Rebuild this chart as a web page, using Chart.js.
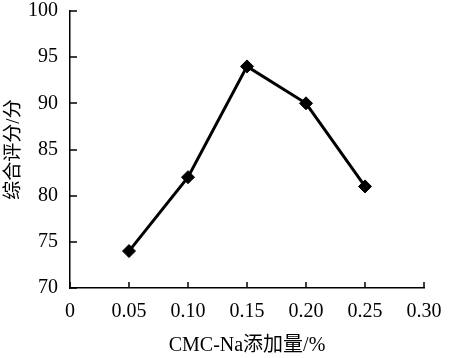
<!DOCTYPE html>
<html><head><meta charset="utf-8">
<script src="https://cdn.jsdelivr.net/npm/chart.js@4/dist/chart.umd.min.js"></script>
<style>html,body{margin:0;padding:0;background:#fff;}#wrap{width:452px;height:358px;}</style>
</head><body><div id="wrap"><canvas id="c" width="452" height="358"></canvas></div>
<script>
const xValues = [0.05, 0.10, 0.15, 0.20, 0.25];
const scores = [74, 82, 94, 90, 81];
const xTicks = [0, 0.05, 0.10, 0.15, 0.20, 0.25, 0.30];
const yTicks = [70, 75, 80, 85, 90, 95, 100];
const xTitle = 'CMC-Na添加量/%';
const yTitle = '综合评分/分';

const serif = '"Liberation Serif", "Times New Roman", serif';
const mixed = '"Liberation Serif", "Noto Sans CJK SC", serif';

const innerTicks = {
  id: 'innerTicks',
  afterDraw(chart) {
    const ctx = chart.ctx, xs = chart.scales.x, ys = chart.scales.y;
    const a = chart.chartArea;
    ctx.save();
    ctx.strokeStyle = '#000';
    ctx.lineWidth = 1.5;
    ctx.beginPath();
    xTicks.forEach(v => { const p = Math.round(xs.getPixelForValue(v)); ctx.moveTo(p, a.bottom); ctx.lineTo(p, a.bottom - 6); });
    yTicks.forEach(v => { const p = Math.round(ys.getPixelForValue(v)); ctx.moveTo(a.left, p); ctx.lineTo(a.left + 7, p); });
    ctx.stroke();
    ctx.restore();
  }
};

new Chart(document.getElementById('c'), {
  type: 'line',
  data: {
    datasets: [{
      data: xValues.map((x, i) => ({x: x, y: scores[i]})),
      borderColor: '#000',
      backgroundColor: '#000',
      borderWidth: 3,
      pointStyle: 'rectRot',
      pointRadius: 6.5,
      pointBorderWidth: 1,
      tension: 0
    }]
  },
  options: {
    responsive: false,
    animation: false,
    layout: {padding: {top: 11, right: 28, left: 0, bottom: 0}},
    plugins: {legend: {display: false}, tooltip: {enabled: false}},
    scales: {
      x: {
        type: 'linear', min: 0, max: 0.30,
        afterBuildTicks: s => { s.ticks = xTicks.map(v => ({value: v})); },
        afterFit: s => { s.height = 70; s.paddingLeft = 0; s.paddingRight = 0; },
        grid: {display: true, drawOnChartArea: false, drawTicks: false},
        border: {display: true, color: '#000', width: 1.5},
        ticks: {
          color: '#000', padding: 12, maxRotation: 0,
          font: {family: serif, size: 20},
          callback: v => v === 0 ? '0' : v.toFixed(2)
        },
        title: {display: true, text: xTitle, color: '#000', font: {family: mixed, size: 20}, padding: {top: 0, bottom: 0}}
      },
      y: {
        min: 70, max: 100,
        afterBuildTicks: s => { s.ticks = yTicks.map(v => ({value: v})); },
        afterFit: s => { s.width = 70; s.paddingTop = 0; s.paddingBottom = 0; },
        grid: {display: true, drawOnChartArea: false, drawTicks: false},
        border: {display: true, color: '#000', width: 1.5},
        ticks: {color: '#000', padding: 12, font: {family: serif, size: 20}},
        title: {display: true, text: yTitle, color: '#000', font: {family: mixed, size: 19}, padding: {top: 3, bottom: 4}}
      }
    }
  },
  plugins: [innerTicks]
});
</script></body></html>
